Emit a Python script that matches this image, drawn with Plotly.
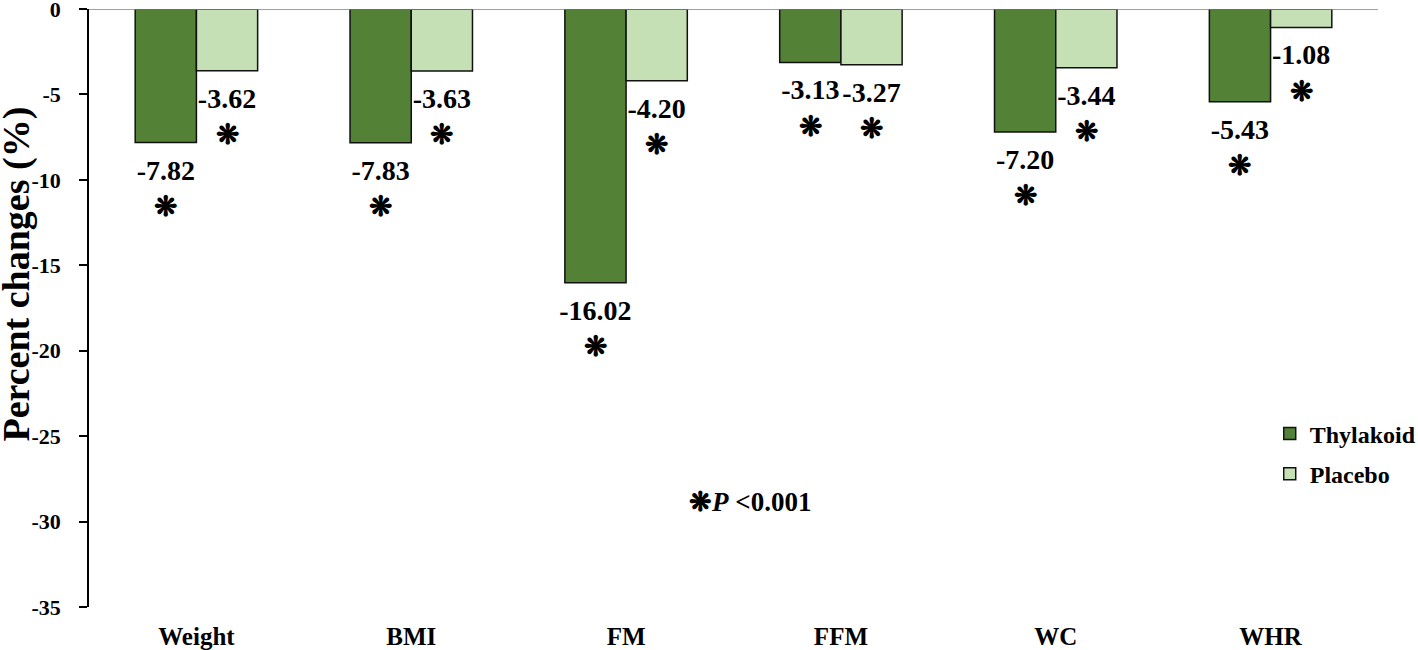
import plotly.graph_objects as go

categories = ["Weight", "BMI", "FM", "FFM", "WC", "WHR"]
thylakoid = [-7.82, -7.83, -16.02, -3.13, -7.20, -5.43]
placebo = [-3.62, -3.63, -4.20, -3.27, -3.44, -1.08]
series_names = ["Thylakoid", "Placebo"]
y_tickvals = [0, -5, -10, -15, -20, -25, -30, -35]
y_ticktext = ["0", "-5", "-10", "-15", "-20", "-25", "-30", "-35"]
star = "\u274b"

colors = ["#538135", "#c5e0b4"]
FONT = "Liberation Serif"
GAP = 0.43

fig = go.Figure()
for name, vals, col, grp in zip(series_names, [thylakoid, placebo], colors, ["a", "b"]):
    fig.add_trace(go.Bar(
        x=categories, y=vals, name=name, offsetgroup=grp, legendgroup=grp,
        marker=dict(color=col, line=dict(color="#111111", width=1.5)),
        hoverinfo="skip",
    ))
for vals, grp in zip([thylakoid, placebo], ["a", "b"]):
    fig.add_trace(go.Scatter(
        x=categories, y=vals, offsetgroup=grp, mode="markers+text",
        marker=dict(size=24, opacity=0),
        text=[f"{v:.2f}<br>{star}" for v in vals],
        textposition="bottom center",
        textfont=dict(family=FONT, size=28, color="#000000", weight="bold"),
        showlegend=False, hoverinfo="skip", cliponaxis=False,
    ))

fig.add_shape(type="line", xref="paper", yref="y", x0=0, x1=1, y0=0, y1=0,
              line=dict(color="#808080", width=1.5))

fig.add_annotation(
    text="<b>Percent changes (%)</b>", textangle=-90, xref="paper", yref="paper",
    x=-0.0566, y=0.556, xanchor="center", yanchor="middle", showarrow=False,
    font=dict(family=FONT, size=38, color="#000000"),
)
fig.add_annotation(
    text=f"<b>{star}<i>P</i> &lt;0.001</b>", xref="paper", yref="paper",
    x=0.513, y=0.175, xanchor="center", yanchor="middle", showarrow=False,
    font=dict(family=FONT, size=27, color="#000000"),
)

fig.update_layout(
    width=1418, height=650,
    margin=dict(l=89, r=40, t=9, b=42.5, autoexpand=False),
    paper_bgcolor="white", plot_bgcolor="white",
    barmode="group", bargap=GAP, bargroupgap=0,
    scattermode="group", scattergap=GAP,
    font=dict(family=FONT, color="#000000"),
    showlegend=True,
    legend=dict(
        x=0.916, y=0.327, xanchor="left", yanchor="top",
        font=dict(family=FONT, size=24, color="#000000", weight="bold"),
        tracegroupgap=6, bgcolor="rgba(0,0,0,0)",
    ),
    xaxis=dict(
        type="category", showline=False, showgrid=False, ticks="",
        tickfont=dict(family=FONT, size=25, color="#000000", weight="bold"),
        ticklabelstandoff=12, zeroline=False, automargin=False,
    ),
    yaxis=dict(
        range=[-35, 0], tickvals=y_tickvals, ticktext=y_ticktext,
        showline=True, linecolor="#000000", linewidth=1.5,
        ticks="outside", ticklen=8, tickwidth=1.5, tickcolor="#000000",
        showgrid=False, zeroline=False, automargin=False,
        ticklabeloverflow="allow",
        tickfont=dict(family=FONT, size=22, color="#000000", weight="bold"),
        ticklabelstandoff=14,
    ),
)

fig.write_html(
    "out.html",
    config={"displayModeBar": False},
    post_script="document.body.style.margin='0';document.body.style.overflow='hidden';",
)
